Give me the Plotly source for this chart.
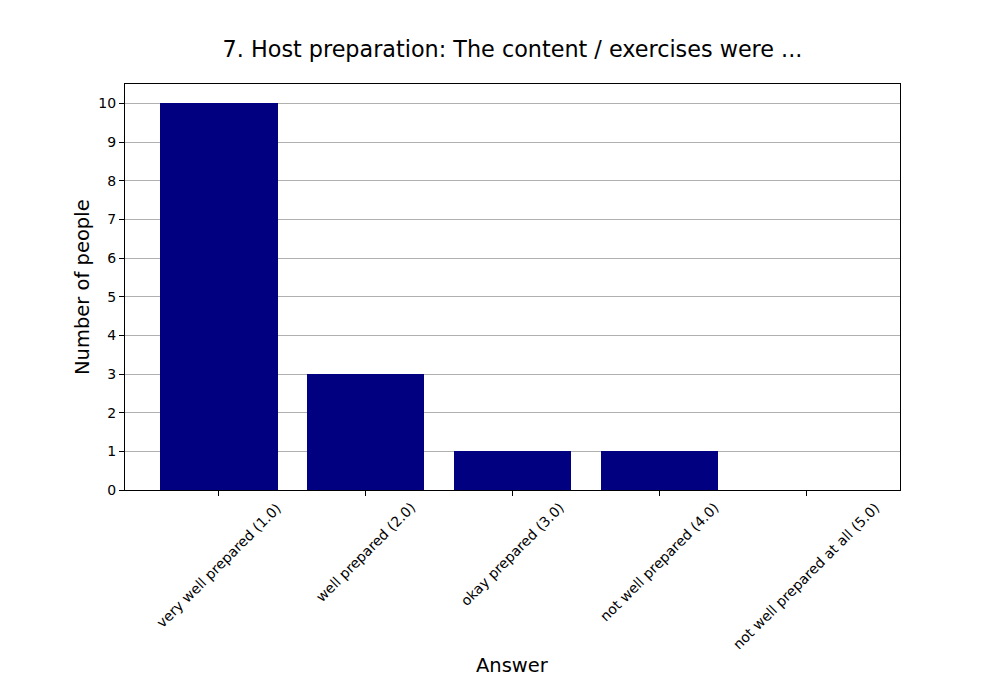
import plotly.graph_objects as go

categories = ["very well prepared (1.0)", "well prepared (2.0)", "okay prepared (3.0)",
              "not well prepared (4.0)", "not well prepared at all (5.0)"]
counts = [10, 3, 1, 1, 0]
y_ticks = list(range(0, 11))

font = "DejaVu Sans"
x_pos = list(range(len(categories)))

fig = go.Figure()
fig.add_trace(go.Bar(x=x_pos, y=counts, width=0.8, marker=dict(color="#000080", line=dict(width=0))))

fig.update_layout(
    width=1000, height=700,
    margin=dict(l=125, r=100, t=84, b=210),
    plot_bgcolor="white", paper_bgcolor="white",
    font=dict(family=font, color="black", size=14),
    showlegend=False,
    bargap=0,
    title=dict(text="7. Host preparation: The content / exercises were ...",
               x=0.5, xref="paper", xanchor="center", y=1 - 49 / 700, yanchor="middle",
               yref="container", font=dict(size=22.3, family=font, color="black")),
)
fig.update_xaxes(
    range=[-0.64, 4.64], tickmode="array", tickvals=x_pos, showticklabels=False,
    ticks="outside", ticklen=5, tickcolor="black",
    showline=True, linecolor="black", linewidth=1, mirror=True,
    showgrid=False, zeroline=False,
)
fig.update_yaxes(
    range=[0, 10.5], tickmode="array", tickvals=y_ticks,
    ticks="outside", ticklen=5, tickcolor="black",
    showline=True, linecolor="black", linewidth=1, mirror=True,
    showgrid=True, gridcolor="#b0b0b0", gridwidth=1, zeroline=False,
    tickfont=dict(size=14, family=font),
)
for xp, label in zip(x_pos, categories):
    fig.add_annotation(text=label, x=xp, xref="x", y=0, yref="paper", yshift=-8,
                       xanchor="center", yanchor="top", textangle=-45, showarrow=False,
                       borderpad=0, font=dict(size=14, family=font, color="black"))
fig.add_annotation(text="Answer", xref="paper", yref="paper", x=0.5, y=-(665 - 490) / 406,
                   xanchor="center", yanchor="middle", showarrow=False,
                   font=dict(size=19.5, family=font, color="black"))
fig.add_annotation(text="Number of people", xref="paper", yref="paper", x=-(125 - 82) / 775, y=0.5,
                   xanchor="center", yanchor="middle", showarrow=False, textangle=-90,
                   font=dict(size=19.5, family=font, color="black"))

fig.write_html("out.html")
